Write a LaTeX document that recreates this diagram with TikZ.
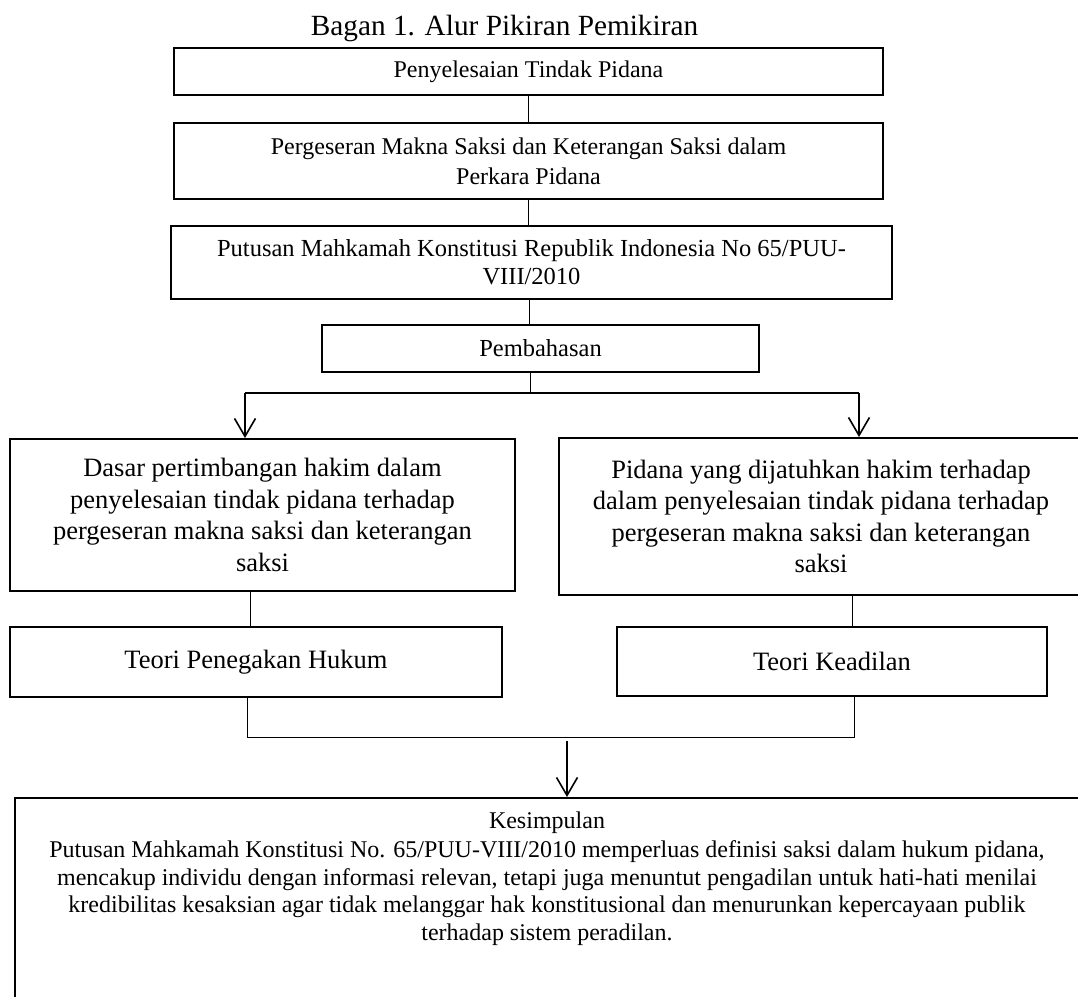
\documentclass[tikz,border=0pt]{standalone}
\usepackage{fontspec}
\setmainfont{Liberation Serif}
\usetikzlibrary{arrows.meta}
\tikzset{
  boxa/.style={draw, line width=2pt, inner sep=0pt, align=center},
  conn/.style={line width=1pt},
  arr/.style={line width=1.6pt, -{Straight Barb[length=18pt,width=21pt]}},
  fsmall/.style={font=\fontsize{24}{30}\selectfont},
  fbig/.style={font=\fontsize{26.5}{31.5}\selectfont},
}
\begin{document}
\begin{tikzpicture}[x=1pt,y=-1pt]
\useasboundingbox (0,0) rectangle (1078,996);
\node[anchor=base, font=\fontsize{29.3}{35}\selectfont, inner sep=0] (title) at (504.5,35) {Bagan 1. Alur Pikiran Pemikiran};
\node[boxa, fsmall, minimum width=709pt, minimum height=47pt] (box1) at (528.5,71.5) {Penyelesaian Tindak Pidana};
\node[boxa, fsmall, minimum width=709pt, minimum height=76pt] (box2) at (528.5,161) {Pergeseran Makna Saksi dan Keterangan Saksi dalam\\Perkara Pidana};
\node[boxa, font=\fontsize{24.5}{28}\selectfont, minimum width=721pt, minimum height=73pt] (box3) at (531.5,262.5) {Putusan Mahkamah Konstitusi Republik Indonesia No 65/PUU-\\VIII/2010};
\node[boxa, font=\fontsize{24.5}{28}\selectfont, minimum width=437pt, minimum height=47pt] (box4) at (540.5,348.5) {Pembahasan};
\node[boxa, fbig, minimum width=505pt, minimum height=152pt] (box5) at (262.5,515) {Dasar pertimbangan hakim dalam\\penyelesaian tindak pidana terhadap\\pergeseran makna saksi dan keterangan\\saksi};
\node[boxa, fbig, minimum width=524pt, minimum height=157pt] (box6) at (821,516.5) {Pidana yang dijatuhkan hakim terhadap\\dalam penyelesaian tindak pidana terhadap\\pergeseran makna saksi dan keterangan\\saksi};
\node[boxa, fbig, minimum width=492pt, minimum height=70pt] (box7) at (256,662) {Teori Penegakan Hukum};
\node[boxa, fbig, minimum width=430pt, minimum height=69pt] (box8) at (832,661.5) {Teori Keadilan};
\node[boxa, minimum width=1066pt, minimum height=240pt, anchor=north west] (box9) at (14,797) {};
\node[anchor=north, inner sep=0, align=center, font=\fontsize{24}{27.5}\selectfont] (kes) at (547,812) {Kesimpulan\\[1.5pt]Putusan Mahkamah Konstitusi No. 65/PUU-VIII/2010 memperluas definisi saksi dalam hukum pidana,\\mencakup individu dengan informasi relevan, tetapi juga menuntut pengadilan untuk hati-hati menilai\\kredibilitas kesaksian agar tidak melanggar hak konstitusional dan menurunkan kepercayaan publik\\terhadap sistem peradilan.};
% connectors
\draw[conn] (box1.south) -- (box2.north);
\draw[conn] (box2.south) -- (box3.north -| box2.south);
\coordinate (c34) at (529,0);
\draw[conn] (box3.south -| c34) -- (box4.north -| c34);
\coordinate (jm) at (530,393);
\coordinate (jl) at (245,393);
\coordinate (jr) at (859,393);
\draw[conn] (box4.south -| jm) -- (jm);
\draw[line width=1.3pt] (jl) -- (jr);
\draw[arr] (jl) -- (jl |- box5.north);
\draw[arr] (jr) -- (jr |- box6.north);
\coordinate (c57) at (250,0);
\draw[conn] (box5.south -| c57) -- (box7.north -| c57);
\coordinate (c68) at (852,0);
\draw[conn] (box6.south -| c68) -- (box8.north -| c68);
\coordinate (bl) at (247,737);
\coordinate (br) at (854,737);
\draw[conn] (box7.south -| bl) -- (bl) -- (br) -- (box8.south -| br);
\coordinate (ka) at (567,741);
\draw[arr] (ka) -- (ka |- box9.north);
\end{tikzpicture}
\end{document}
